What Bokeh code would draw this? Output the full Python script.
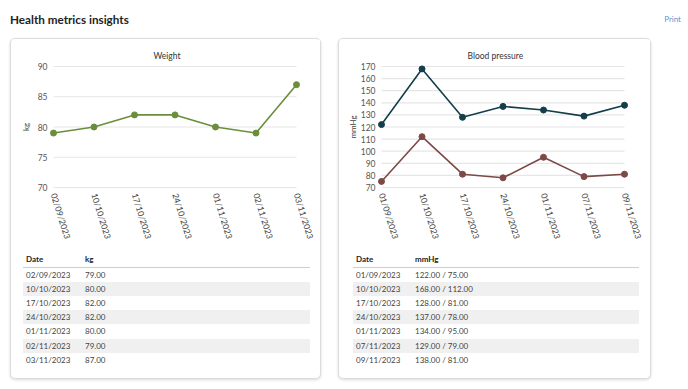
from bokeh.plotting import figure
from bokeh.layouts import column, row
from bokeh.models import Div, Range1d, FixedTicker, ColumnDataSource
from bokeh.embed import file_html
from bokeh.resources import INLINE

# ---------------- data ----------------
weight_dates = ["02/09/2023", "10/10/2023", "17/10/2023", "24/10/2023",
                "01/11/2023", "02/11/2023", "03/11/2023"]
weight_kg = [79, 80, 82, 82, 80, 79, 87]
weight_ticks = [70, 75, 80, 85, 90]

bp_dates = ["01/09/2023", "10/10/2023", "17/10/2023", "24/10/2023",
            "01/11/2023", "07/11/2023", "09/11/2023"]
bp_systolic = [122, 168, 128, 137, 134, 129, 138]
bp_diastolic = [75, 112, 81, 78, 95, 79, 81]
bp_ticks = [70, 80, 90, 100, 110, 120, 130, 140, 150, 160, 170]

FONT = "Lato"
GREEN = "#6a8e3b"
TEAL = "#143e4c"
BROWN = "#7b4a46"

# plot-area geometry (pixels)
FIG_W, FIG_H = 309, 212
GRID_W, GRID_H = 243, 121      # extent of the gridlines
PADX, PADY = 5, 3              # room so edge markers are not clipped
LEFT, TOP = 42, 27             # gridline start inside the figure


def make_chart(title, dates, series, yticks, ylabel, label_standoff,
               title_offset, fig_w=FIG_W):
    n = len(dates)
    idx = list(range(n))
    ux = (n - 1) / GRID_W
    uy = (yticks[-1] - yticks[0]) / GRID_H
    p = figure(width=fig_w, height=FIG_H,
               x_range=Range1d(-PADX * ux, (n - 1) + PADX * ux),
               y_range=Range1d(yticks[0] - PADY * uy, yticks[-1] + PADY * uy),
               output_backend="svg", toolbar_location=None,
               min_border_left=LEFT - PADX,
               min_border_right=fig_w - LEFT - GRID_W - PADX,
               min_border_top=TOP - PADY,
               min_border_bottom=FIG_H - TOP - GRID_H - PADY)
    p.outline_line_color = None
    p.background_fill_color = "white"
    p.border_fill_color = "white"
    p.title.text = title
    p.title.align = "left"
    p.title.offset = title_offset
    p.title.text_font = FONT
    p.title.text_font_size = "8.5px"
    p.title.text_font_style = "normal"
    p.title.text_color = "#333333"
    p.title.standoff = 5

    p.xgrid.grid_line_color = None
    p.ygrid.grid_line_color = None
    p.segment(x0=0, x1=n - 1, y0=yticks, y1=yticks,
              line_color="#e6e6e6", line_width=1.2)

    for vals, color in series:
        src = ColumnDataSource(dict(x=idx, y=vals))
        p.line("x", "y", source=src, line_color=color, line_width=1.6)
        p.scatter("x", "y", source=src, size=6, fill_color=color,
                  line_color=color)

    p.yaxis.ticker = FixedTicker(ticks=yticks)
    p.yaxis.axis_line_color = None
    p.yaxis.major_tick_line_color = None
    p.yaxis.minor_tick_line_color = None
    p.yaxis.major_tick_out = 0
    p.yaxis.major_tick_in = 0
    p.yaxis.major_label_text_font = FONT
    p.yaxis.major_label_text_font_size = "8.5px"
    p.yaxis.major_label_text_color = "#555555"
    p.yaxis.major_label_standoff = 1
    p.yaxis.axis_label = ylabel
    p.yaxis.axis_label_text_font = FONT
    p.yaxis.axis_label_text_font_size = "8px"
    p.yaxis.axis_label_text_font_style = "normal"
    p.yaxis.axis_label_text_color = "#444444"
    p.yaxis.axis_label_standoff = label_standoff

    p.xaxis.ticker = FixedTicker(ticks=idx)
    p.xaxis.major_label_overrides = {i: d for i, d in zip(idx, dates)}
    p.xaxis.axis_line_color = None
    p.xaxis.major_tick_line_color = None
    p.xaxis.minor_tick_line_color = None
    p.xaxis.major_tick_out = 0
    p.xaxis.major_tick_in = 0
    p.xaxis.major_label_orientation = -1.27
    p.xaxis.major_label_text_font = FONT
    p.xaxis.major_label_text_font_size = "8.5px"
    p.xaxis.major_label_text_color = "#444444"
    p.xaxis.major_label_standoff = 3
    return p


def make_table(dates, values, unit, width, left):
    rows = []
    for i, (d, v) in enumerate(zip(dates, values)):
        bg = "#f0f0f0" if i % 2 == 1 else "white"
        rows.append(
            f'<tr style="background:{bg};height:14.2px">'
            f'<td style="padding:0 0 0 3px;width:62px">{d}</td>'
            f'<td style="padding:0">{v}</td></tr>')
    html = (
        f'<table style="border-collapse:collapse;width:{width}px;'
        f'font-family:{FONT};font-size:8px;color:#444;line-height:14.2px">'
        '<tr style="height:16px;border-bottom:1.5px solid #cfcfcf">'
        '<th style="text-align:left;padding:0 0 0 3px;color:#222;font-weight:bold">Date</th>'
        f'<th style="text-align:left;padding:0;color:#222;font-weight:bold">{unit}</th></tr>'
        + "".join(rows) + '</table>')
    return Div(text=html, width=width, height=120, margin=(0, 0, 0, left))


card_style = {"border": "1px solid #dcdcdc", "border-radius": "5px",
              "box-shadow": "0 1px 3px rgba(0,0,0,0.15)",
              "background": "white"}

weight_fig = make_chart("Weight", weight_dates, [(weight_kg, GREEN)],
                        weight_ticks, "kg", 4, 105)
weight_table = make_table(weight_dates, [f"{v:.2f}" for v in weight_kg],
                          "kg", 287, 12)
card1 = column(weight_fig, weight_table, width=311, height=341,
               margin=(0, 0, 0, 2), styles=card_style, spacing=0)

bp_fig = make_chart("Blood pressure", bp_dates,
                    [(bp_systolic, TEAL), (bp_diastolic, BROWN)],
                    bp_ticks, "mmHg", 0, 91, fig_w=311)
bp_table = make_table(bp_dates,
                      [f"{s:.2f} / {d:.2f}" for s, d in zip(bp_systolic, bp_diastolic)],
                      "mmHg", 286, 14)
card2 = column(bp_fig, bp_table, width=313, height=341,
               margin=(0, 0, 0, 17), styles=card_style, spacing=0)

header = Div(text=(
    '<div style="display:flex;justify-content:space-between;'
    f'width:673px;height:30px;font-family:{FONT};line-height:14px;padding-top:4px;box-sizing:border-box">'
    '<span style="font-size:11.7px;font-weight:bold;color:#222;margin-left:2px">Health metrics insights</span>'
    '<span style="font-size:8px;color:#5f93d4">Print</span></div>'),
    width=673, height=30, margin=(0, 0, 0, 0))

layout = column(header, row(card1, card2, spacing=0), spacing=0,
                margin=(8, 8, 8, 8))

open("out.html", "w").write(file_html(layout, INLINE))
